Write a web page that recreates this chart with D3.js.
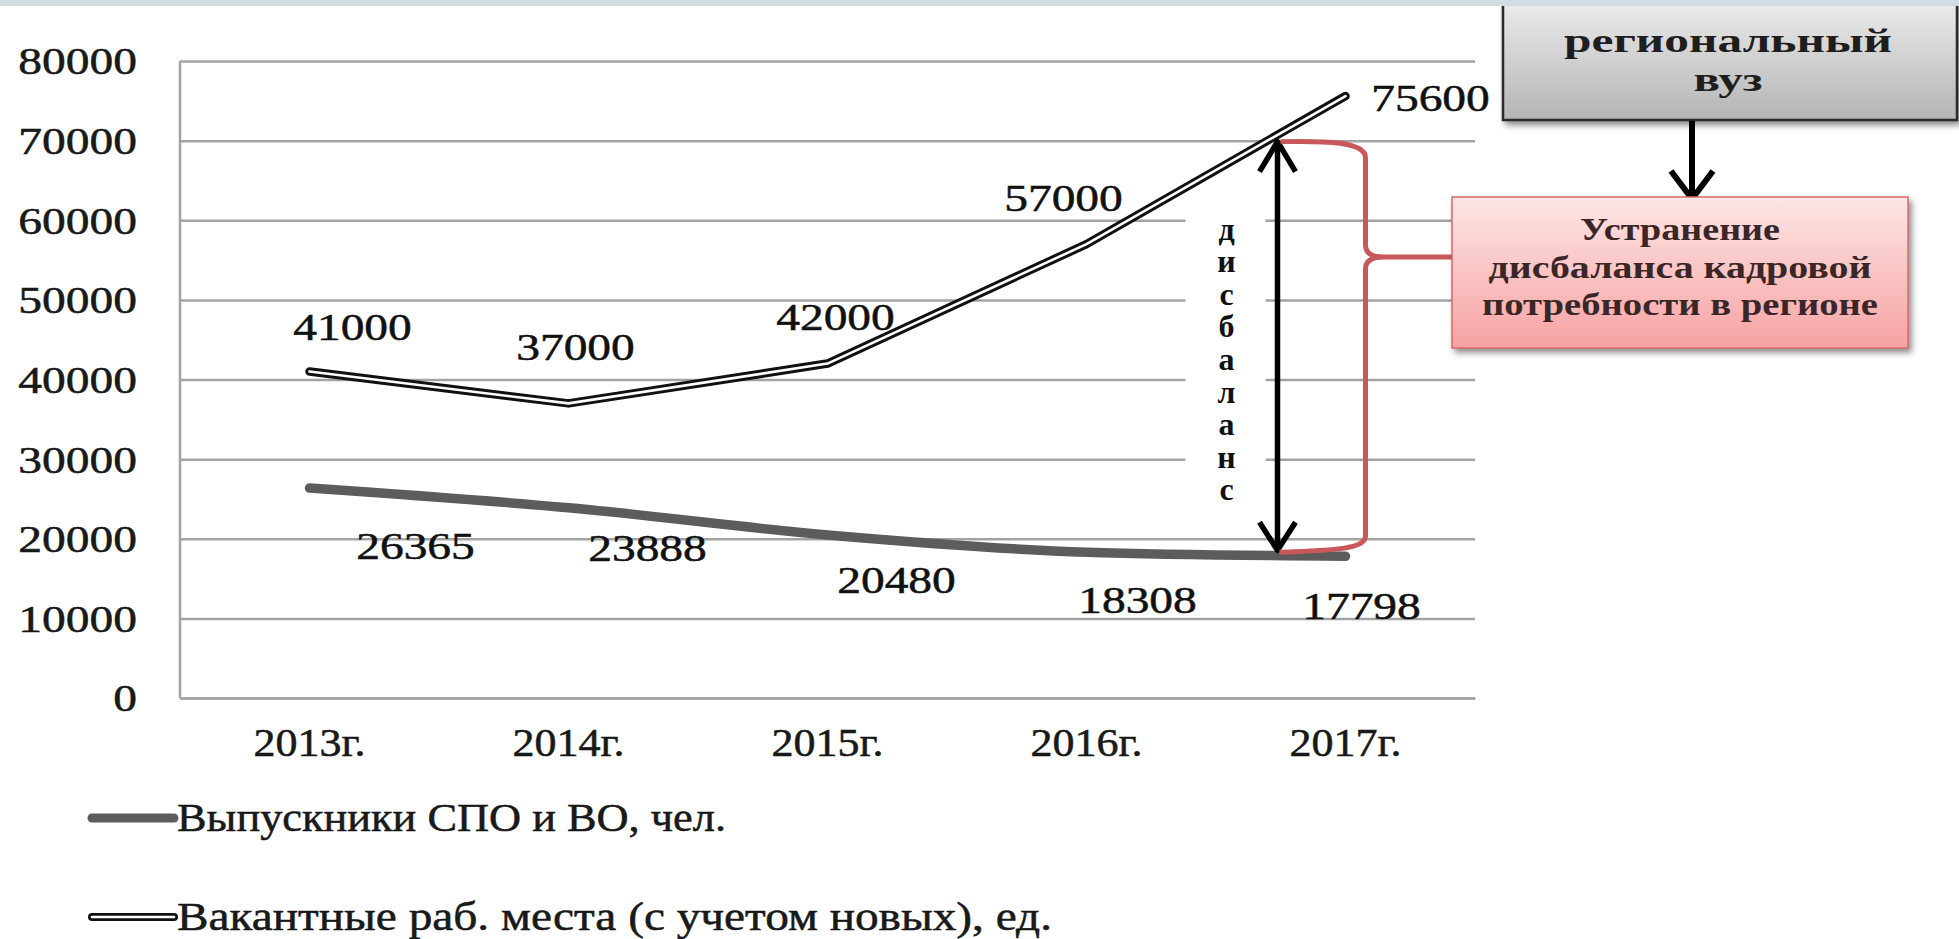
<!DOCTYPE html>
<html>
<head>
<meta charset="utf-8">
<script src="https://cdn.jsdelivr.net/npm/d3@7"></script>
<style>
  body { margin: 0; background: #fff; }
  svg { display: block; }
  svg text { font-family: "Liberation Serif", "Times New Roman", serif !important; }
  .heavy { stroke: #111; stroke-width: 0.5px; }
</style>
</head>
<body>
<div id="chart"></div>
<script>
// data
const years = ["2013г.", "2014г.", "2015г.", "2016г.", "2017г."];
const graduates = [26365, 23888, 20480, 18308, 17798];
const vacancies = [41000, 37000, 42000, 57000, 75600];
const yTicks = [0, 10000, 20000, 30000, 40000, 50000, 60000, 70000, 80000];
const seriesNames = ["Выпускники СПО и ВО, чел.", "Вакантные раб. места (с учетом новых), ед."];
const uniLines = ["региональный", "вуз"];
const fixLines = ["Устранение", "дисбаланса кадровой", "потребности в регионе"];
const gapWord = "дисбаланс";

// where the data labels sit relative to their point (hand placed, like in the source)
const gradLabelOff = [[106, 58], [79, 40], [69, 45], [51, 48], [16, 50]];
const vacLabelOff = [[43, -44], [7, -56], [8, -46], [-23, -46], [85, 2]];

const W = 1959, H = 939;
const margin = {top: 61, left: 180, right: 484, bottom: 241};
const width = W - margin.left - margin.right,
      height = H - margin.top - margin.bottom;
const serif = "'Liberation Serif', 'Times New Roman', serif";

const svg = d3.select("#chart").append("svg")
    .attr("width", W)
    .attr("height", H)
    .attr("font-family", serif);

const defs = svg.append("defs");
let g1 = defs.append("linearGradient").attr("id", "grayGrad").attr("x1", 0).attr("y1", 0).attr("x2", 0).attr("y2", 1);
g1.append("stop").attr("offset", "0%").attr("stop-color", "#f2f2f2");
g1.append("stop").attr("offset", "100%").attr("stop-color", "#b4b4b4");
let g2 = defs.append("linearGradient").attr("id", "pinkGrad").attr("x1", 0).attr("y1", 0).attr("x2", 0).attr("y2", 1);
g2.append("stop").attr("offset", "0%").attr("stop-color", "#fde6e6");
g2.append("stop").attr("offset", "100%").attr("stop-color", "#f7a2a2");
defs.append("filter").attr("id", "shadow").attr("x", "-10%").attr("y", "-10%").attr("width", "130%").attr("height", "140%")
    .append("feDropShadow").attr("dx", 3).attr("dy", 4).attr("stdDeviation", 3).attr("flood-color", "#000").attr("flood-opacity", 0.45);

const x = d3.scaleBand().domain(years).range([margin.left, margin.left + width]);
const cx = d => x(d) + x.bandwidth() / 2;
const y = d3.scaleLinear().domain([0, 80000]).range([margin.top + height, margin.top]);

// y axis + grid
const yAxis = svg.append("g")
    .attr("transform", "translate(" + margin.left + ",0)")
    .call(d3.axisLeft(y).tickValues(yTicks).tickSize(-width).tickPadding(43).tickFormat(d3.format("d")));
yAxis.attr("font-family", serif);
yAxis.select(".domain").remove();
yAxis.selectAll("line").attr("stroke", "#a3a3a3").attr("stroke-width", 2.5);
yAxis.selectAll("text")
    .attr("x", 0)
    .attr("class", "heavy")
    .attr("transform", "translate(-43,0) scale(1.25,1)")
    .attr("font-size", 38).attr("fill", "#1a1a1a").attr("dy", "0.34em");

// x axis
const xAxis = svg.append("g")
    .attr("transform", "translate(0," + (margin.top + height) + ")")
    .call(d3.axisBottom(x).tickSize(0).tickPadding(30));
xAxis.attr("font-family", serif);
xAxis.select(".domain").attr("stroke", "#a3a3a3").attr("stroke-width", 2.5);
xAxis.selectAll("text")
    .attr("class", "heavy")
    .attr("transform", "scale(1.1,1)")
    .attr("font-size", 40).attr("fill", "#1a1a1a");
svg.append("line")
    .attr("x1", margin.left).attr("x2", margin.left)
    .attr("y1", margin.top).attr("y2", margin.top + height)
    .attr("stroke", "#a3a3a3").attr("stroke-width", 2.5);

// annotation anchors
const last = years[years.length - 1];
const arrowX = cx(last) - 68;
const braceX = cx(last) + 20;
const topY = y(70000) + 1;
const botY = y(graduates[4]) - 6;

// white patch behind the vertical word
svg.append("rect").attr("x", arrowX - 92).attr("y", 190).attr("width", 80).attr("height", 325).attr("fill", "#fff");

// lines
const gradLine = d3.line().x((d, i) => cx(years[i])).y(d => y(d)).curve(d3.curveMonotoneX);
const vacLine = d3.line().x((d, i) => cx(years[i])).y(d => y(d));

svg.append("path").datum(graduates)
    .attr("d", gradLine).attr("fill", "none")
    .attr("stroke", "#5c5c5c").attr("stroke-width", 9.5).attr("stroke-linecap", "round");

svg.append("path").datum(vacancies)
    .attr("d", vacLine).attr("fill", "none")
    .attr("stroke", "#111").attr("stroke-width", 8.5).attr("stroke-linecap", "round").attr("stroke-linejoin", "round");
svg.append("path").datum(vacancies)
    .attr("d", vacLine).attr("fill", "none")
    .attr("stroke", "#fff").attr("stroke-width", 2.6).attr("stroke-linecap", "round").attr("stroke-linejoin", "round");

// data labels
function numLabel(val, px, py, off) {
    svg.append("text")
        .attr("class", "heavy")
        .attr("transform", "translate(" + (px + off[0]) + "," + (py + off[1]) + ") scale(1.25,1)")
        .attr("text-anchor", "middle").attr("dy", "0.34em")
        .attr("font-size", 38).attr("fill", "#111")
        .text(val);
}
graduates.forEach((v, i) => numLabel(v, cx(years[i]), y(v), gradLabelOff[i]));
vacancies.forEach((v, i) => numLabel(v, cx(years[i]), y(v), vacLabelOff[i]));

// double headed arrow "дисбаланс"
svg.append("line")
    .attr("x1", arrowX).attr("x2", arrowX).attr("y1", topY + 3).attr("y2", botY - 3)
    .attr("stroke", "#000").attr("stroke-width", 5.5);
svg.append("path")
    .attr("d", "M" + (arrowX - 18) + "," + (topY + 30) + "L" + arrowX + "," + topY + "L" + (arrowX + 18) + "," + (topY + 30)
        + "M" + (arrowX - 18) + "," + (botY - 28) + "L" + arrowX + "," + botY + "L" + (arrowX + 18) + "," + (botY - 28))
    .attr("fill", "none").attr("stroke", "#000").attr("stroke-width", 5.5).attr("stroke-linejoin", "round");

svg.append("g").selectAll("text").data(gapWord.split(""))
    .join("text")
    .attr("x", arrowX - 51).attr("y", (d, i) => 230 + i * 32.6)
    .attr("dy", "0.3em").attr("text-anchor", "middle")
    .attr("font-size", 32).attr("font-weight", "bold").attr("fill", "#111")
    .text(d => d);

// brace
const midY = 257, boxL = 1452;
svg.append("path")
    .attr("d", "M" + (arrowX + 3) + "," + topY
        + "C" + (braceX - 40) + "," + (topY - 1) + " " + braceX + "," + (topY) + " " + braceX + "," + (topY + 16)
        + "V" + (midY - 12)
        + "Q" + braceX + "," + midY + " " + (braceX + 18) + "," + midY
        + "H" + boxL
        + "M" + (braceX + 18) + "," + midY
        + "Q" + braceX + "," + midY + " " + braceX + "," + (midY + 12)
        + "V" + (botY - 14)
        + "C" + braceX + "," + (botY) + " " + (braceX - 40) + "," + (botY) + " " + (arrowX + 2) + "," + (botY + 2))
    .attr("fill", "none").attr("stroke", "#c9585b").attr("stroke-width", 5).attr("stroke-linejoin", "round");

// gray box (top cut by the frame)
svg.append("rect").attr("x", 1503).attr("y", -12).attr("width", 454).attr("height", 132)
    .attr("fill", "url(#grayGrad)").attr("stroke", "#2b2b2b").attr("stroke-width", 2.5)
    .attr("filter", "url(#shadow)");
// thin bar along the top edge
svg.append("rect").attr("x", 0).attr("y", 0).attr("width", W).attr("height", 6).attr("fill", "#d3dbe3");
const uniWidths = [328, 69];
const uniBase = [52, 91];
uniLines.forEach((t, i) => {
    svg.append("text")
        .attr("x", 1728).attr("y", uniBase[i]).attr("text-anchor", "middle")
        .attr("font-size", 34).attr("font-weight", "bold").attr("fill", "#1e1e1e")
        .attr("textLength", uniWidths[i]).attr("lengthAdjust", "spacingAndGlyphs")
        .text(t);
});

// arrow from gray box down
svg.append("path")
    .attr("d", "M1692,121V198M1671,171L1692,199L1713,171")
    .attr("fill", "none").attr("stroke", "#000").attr("stroke-width", 6).attr("stroke-linejoin", "round");

// pink box
svg.append("rect").attr("x", boxL).attr("y", 197).attr("width", 456).attr("height", 151)
    .attr("fill", "url(#pinkGrad)").attr("stroke", "#d46a6a").attr("stroke-width", 1.5)
    .attr("filter", "url(#shadow)");
const fixWidths = [200, 383, 396];
const fixBase = [240, 278, 315];
fixLines.forEach((t, i) => {
    svg.append("text")
        .attr("x", 1680).attr("y", fixBase[i]).attr("text-anchor", "middle")
        .attr("font-size", 31).attr("font-weight", "bold").attr("fill", "#3a2626")
        .attr("textLength", fixWidths[i]).attr("lengthAdjust", "spacingAndGlyphs")
        .text(t);
});

// legend
const legY = [818, 917];
const legWidths = [549, 875];
const leg = svg.append("g");
leg.append("line").attr("x1", 92).attr("x2", 174).attr("y1", legY[0]).attr("y2", legY[0])
    .attr("stroke", "#5c5c5c").attr("stroke-width", 9).attr("stroke-linecap", "round");
leg.append("line").attr("x1", 92).attr("x2", 174).attr("y1", legY[1]).attr("y2", legY[1])
    .attr("stroke", "#111").attr("stroke-width", 8).attr("stroke-linecap", "round");
leg.append("line").attr("x1", 92).attr("x2", 174).attr("y1", legY[1]).attr("y2", legY[1])
    .attr("stroke", "#fff").attr("stroke-width", 2.6).attr("stroke-linecap", "round");
seriesNames.forEach((t, i) => {
    leg.append("text")
        .attr("class", "heavy")
        .attr("x", 177).attr("y", legY[i] + 13)
        .attr("font-size", 40).attr("fill", "#1a1a1a")
        .attr("textLength", legWidths[i]).attr("lengthAdjust", "spacingAndGlyphs")
        .text(t);
});
</script>
</body>
</html>
